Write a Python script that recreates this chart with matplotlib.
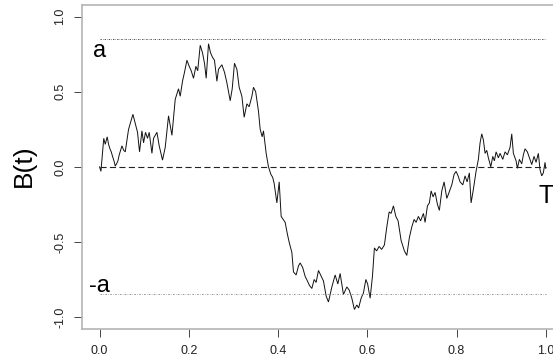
import matplotlib
matplotlib.use("Agg")
import matplotlib.pyplot as plt

plt.rcParams['font.family'] = ['Liberation Sans', 'DejaVu Sans']

# Sample path of B(t) on [0, 1]
t = [0.0000, 0.0031, 0.0094, 0.0128, 0.0172, 0.0202, 0.0233, 0.0262, 0.0291, 0.0323,
     0.0352, 0.0381, 0.0412, 0.0441, 0.0502, 0.0542, 0.0576, 0.0650, 0.0748, 0.0800,
     0.0851, 0.0896, 0.0950, 0.0986, 0.1030, 0.1075, 0.1113, 0.1174, 0.1210, 0.1286,
     0.1337, 0.1411, 0.1472, 0.1546, 0.1622, 0.1696, 0.1770, 0.1808, 0.1859, 0.1904,
     0.1958, 0.2009, 0.2054, 0.2106, 0.2159, 0.2200, 0.2256, 0.2307, 0.2352, 0.2390,
     0.2442, 0.2487, 0.2531, 0.2576, 0.2630, 0.2666, 0.2742, 0.2800, 0.2854, 0.2928,
     0.2973, 0.3024, 0.3078, 0.3129, 0.3190, 0.3241, 0.3302, 0.3353, 0.3414, 0.3450,
     0.3499, 0.3562, 0.3600, 0.3645, 0.3674, 0.3734, 0.3786, 0.3840, 0.3880, 0.3913,
     0.3974, 0.4026, 0.4070, 0.4115, 0.4160, 0.4211, 0.4256, 0.4310, 0.4346, 0.4406,
     0.4458, 0.4496, 0.4552, 0.4608, 0.4659, 0.4704, 0.4758, 0.4810, 0.4854, 0.4906,
     0.4955, 0.5018, 0.5078, 0.5130, 0.5206, 0.5280, 0.5340, 0.5392, 0.5466, 0.5542,
     0.5594, 0.5654, 0.5712, 0.5766, 0.5806, 0.5862, 0.5914, 0.5968, 0.6008, 0.6064,
     0.6116, 0.6160, 0.6210, 0.6266, 0.6322, 0.6384, 0.6438, 0.6490, 0.6534, 0.6586,
     0.6640, 0.6691, 0.6758, 0.6832, 0.6886, 0.6944, 0.6998, 0.7050, 0.7094, 0.7146,
     0.7195, 0.7258, 0.7296, 0.7348, 0.7392, 0.7431, 0.7475, 0.7520, 0.7572, 0.7616,
     0.7670, 0.7722, 0.7782, 0.7834, 0.7894, 0.7946, 0.7991, 0.8035, 0.8080, 0.8141,
     0.8192, 0.8237, 0.8288, 0.8327, 0.8378, 0.8438, 0.8490, 0.8528, 0.8566, 0.8602,
     0.8640, 0.8678, 0.8714, 0.8768, 0.8813, 0.8849, 0.8887, 0.8938, 0.8976, 0.9037,
     0.9088, 0.9140, 0.9200, 0.9238, 0.9274, 0.9335, 0.9364, 0.9409, 0.9462, 0.9498,
     0.9536, 0.9588, 0.9633, 0.9686, 0.9738, 0.9783, 0.9834, 0.9872, 0.9910, 0.9946,
     0.9984, 1.0000]

B = [0.00, -0.03, 0.19, 0.15, 0.20, 0.15, 0.12, 0.10, 0.07, 0.04,
     0.005, 0.02, 0.04, 0.08, 0.14, 0.11, 0.10, 0.25, 0.35, 0.29,
     0.23, 0.10, 0.24, 0.16, 0.23, 0.19, 0.23, 0.09, 0.19, 0.23,
     0.14, 0.045, 0.13, 0.34, 0.21, 0.45, 0.52, 0.47, 0.57, 0.63,
     0.71, 0.67, 0.64, 0.59, 0.67, 0.64, 0.81, 0.76, 0.69, 0.59,
     0.82, 0.76, 0.73, 0.71, 0.57, 0.65, 0.68, 0.63, 0.56, 0.44,
     0.52, 0.69, 0.65, 0.53, 0.47, 0.33, 0.42, 0.40, 0.47, 0.53,
     0.50, 0.37, 0.25, 0.20, 0.24, 0.09, 0.00, -0.05, -0.07, -0.11,
     -0.24, -0.10, -0.33, -0.35, -0.37, -0.45, -0.51, -0.57, -0.70, -0.72,
     -0.66, -0.64, -0.67, -0.73, -0.76, -0.79, -0.81, -0.75, -0.77, -0.69,
     -0.72, -0.76, -0.86, -0.90, -0.80, -0.72, -0.78, -0.71, -0.85, -0.80,
     -0.82, -0.875, -0.95, -0.92, -0.94, -0.875, -0.84, -0.75, -0.78, -0.875,
     -0.73, -0.54, -0.56, -0.53, -0.55, -0.52, -0.40, -0.30, -0.31, -0.26,
     -0.33, -0.36, -0.49, -0.56, -0.59, -0.47, -0.40, -0.35, -0.37, -0.33,
     -0.36, -0.31, -0.37, -0.26, -0.24, -0.16, -0.20, -0.17, -0.25, -0.29,
     -0.16, -0.10, -0.21, -0.17, -0.12, -0.05, -0.03, -0.06, -0.10, -0.12,
     -0.06, -0.10, -0.04, -0.24, -0.15, -0.03, 0.05, 0.16, 0.22, 0.18,
     0.09, 0.11, 0.06, 0.00, 0.07, 0.04, 0.10, 0.06, 0.09, 0.05,
     0.10, 0.08, 0.13, 0.22, 0.09, 0.04, -0.01, 0.05, 0.02, 0.08,
     0.12, 0.10, 0.06, 0.015, 0.07, 0.03, 0.09, -0.02, -0.06, -0.04,
     0.03, -0.01]

a = 0.85
T_end = 1.0
x_ticks = [0.0, 0.2, 0.4, 0.6, 0.8, 1.0]
x_tick_labels = ["0.0", "0.2", "0.4", "0.6", "0.8", "1.0"]
y_ticks = [-1.0, -0.5, 0.0, 0.5, 1.0]
y_tick_labels = ["-1.0", "-0.5", "0.0", "0.5", "1.0"]

W, H = 553, 364
fig = plt.figure(figsize=(W / 100, H / 100), dpi=100)
left, right, top, bottom = 81.7, 563.6, 4.7, 329.0
ax = fig.add_axes([left / W, 1 - bottom / H, (right - left) / W, (bottom - top) / H])

ax.set_xlim(-0.04, 1.04)
ax.set_ylim(-1.08, 1.08)

# path
ax.plot(t, B, color='#111111', lw=0.7, solid_joinstyle='miter')

# reference levels
ax.plot([0, T_end], [0, 0], color='#222222', lw=0.8, dashes=(5.5, 3.0))
ax.plot([0, T_end], [a, a], color='#333333', lw=0.6, dashes=(1.6, 1.4, 0.6, 1.4))
ax.plot([0, T_end], [-a, -a], color='#888888', lw=0.6, dashes=(2.0, 1.6, 0.6, 1.6))

# labels at the barriers and end time
ax.annotate('a', xy=(0, a), xytext=(0, -12.7), textcoords='offset points',
            ha='center', va='baseline', fontsize=17, color='black')
ax.annotate('-a', xy=(0, -a), xytext=(0, 1.9), textcoords='offset points',
            ha='center', va='baseline', fontsize=17, color='black')
ax.annotate('T', xy=(T_end, 0), xytext=(0, -25.7), textcoords='offset points',
            ha='center', va='baseline', fontsize=18, color='black')

# axes styling
for s in ax.spines.values():
    s.set_color('#b4b4b4')
    s.set_linewidth(1.2)

ax.set_xticks(x_ticks)
ax.set_xticklabels(x_tick_labels)
ax.set_yticks(y_ticks)
ax.set_yticklabels(y_tick_labels, rotation=90, va='center')
ax.tick_params(axis='both', length=5.8, width=0.7, color='#444444',
               labelsize=9, labelcolor='#222222')
ax.tick_params(axis='x', pad=6.0)
ax.tick_params(axis='y', pad=5.5)

fig.text(24 / W, 1 - 166 / H, 'B(t)', rotation=90, ha='center', va='center',
         fontsize=19, color='black')

fig.savefig('out.png', dpi=100)
